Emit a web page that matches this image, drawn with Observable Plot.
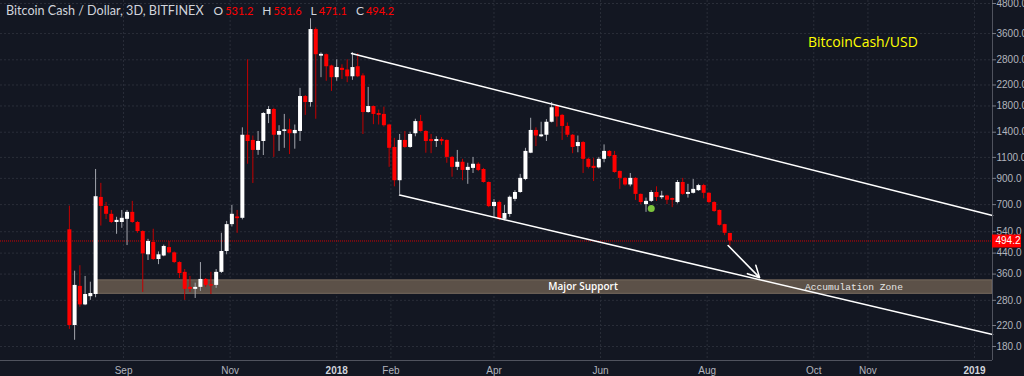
<!DOCTYPE html>
<html><head><meta charset="utf-8">
<script src="https://cdn.jsdelivr.net/npm/d3@7"></script>
<script src="https://cdn.jsdelivr.net/npm/@observablehq/plot@0.6"></script>
<style>
html,body{margin:0;padding:0;background:#131722;overflow:hidden}
#wrap{position:relative;width:1024px;height:376px}
#title{position:absolute;left:6px;top:3px;font:12.6px Lato,"Open Sans",sans-serif;color:#d1d4dc;white-space:nowrap}
#title .k{margin-left:9px;color:#d1d4dc;font-size:12px}
#title .k.first{margin-left:10px}
#title .v{color:#ff0000;margin-left:2px;font-size:11px}
#pair{position:absolute;left:808px;top:32px;font:14px "Open Sans",sans-serif;color:#ffff00}
svg{position:absolute;left:0;top:0}
</style></head><body>
<div id="wrap"></div>
<script>
// ---- data ----
const seriesName = "Bitcoin Cash / Dollar, 3D, BITFINEX";
const pairName = "BitcoinCash/USD";
const ohlcKeys = ["O", "H", "L", "C"];
const opens  = [550,220,320,268,290,296,750,688,638,590,590,608,650,590,541,433,487,414,428,464,441,402,366,317,311,317,342,325,323,366,447,578,622,614,1360,1294,1176,1281,1660,1740,1360,1410,1432,1380,1410,1970,1860,3740,2900,2940,2640,2360,2580,2540,2380,2620,2400,1690,1790,1675,1660,1500,1210,880,1294,1210,1380,1550,1410,1305,1281,1305,1294,1100,1000,1050,971,990,1030,980,865,687,715,608,637,736,786,890,1145,1424,1340,1360,1540,1790,1645,1480,1360,1220,1268,1080,1010,995,1080,1165,1120,962,900,845,900,772,700,722,786,748,760,742,714,865,772,780,800,840,780,714,662,578,531.2];
const highs  = [690,370,390,352,333,980,858,715,662,620,662,662,722,595,545,502,553,445,475,492,445,405,376,352,330,402,345,366,376,532,596,695,662,1460,2800,1350,1410,1690,1790,1760,1490,1660,1585,1500,2130,1990,4150,3800,2990,2960,2660,2800,2670,2800,3000,2970,2450,2150,1800,1730,1780,1510,1320,1370,1410,1400,1585,1645,1420,1370,1340,1330,1300,1110,1176,1080,1040,1100,1045,990,870,735,725,695,760,800,935,1200,1600,1460,1540,1580,1860,1800,1660,1530,1370,1350,1280,1090,1090,1100,1240,1175,1165,965,905,943,905,775,745,800,830,795,765,745,882,900,850,890,850,850,785,720,665,580,531.6];
const lows   = [212,191,262,266,280,287,570,607,584,527,558,473,585,532,302,410,410,394,425,438,398,345,280,302,285,305,317,296,314,362,433,565,532,605,1030,857,1122,1120,1520,1100,1165,1200,1130,1190,1281,1645,1780,1585,2360,2280,2070,2280,2320,2250,2300,2360,1370,1680,1505,1500,1470,1000,830,772,1200,1200,1340,1400,1145,1140,1210,1235,1040,910,970,880,850,943,960,860,680,620,600,600,620,720,780,880,1140,1220,1330,1281,1530,1470,1294,1330,1140,1150,943,985,873,985,1045,1100,945,810,835,830,729,700,650,715,722,736,700,680,705,765,745,775,795,740,705,650,570,520,471.1];
const closes = [220,323,268,296,299,755,688,638,590,602,614,650,590,541,437,492,414,433,469,441,402,362,311,311,317,342,323,321,366,447,578,638,612,1360,1281,1176,1281,1675,1740,1360,1410,1432,1380,1424,1970,1860,3740,2940,2950,2620,2360,2600,2530,2380,2600,2380,1690,1790,1660,1645,1490,1200,880,1294,1210,1370,1550,1410,1281,1280,1305,1280,1100,1000,1050,971,1000,1030,971,865,687,715,608,643,751,786,900,1165,1424,1350,1365,1540,1770,1620,1480,1360,1210,1268,1080,1000,990,1080,1165,1110,952,900,845,900,772,714,722,786,750,760,730,730,865,772,786,810,840,780,714,655,574,532,494.2];
const firstBar = "2017-08-01";
const barDays = 3;

const yTicks = [180,220,280,360,440,540,700,900,1100,1400,1800,2200,2800,3600,4800];
const monthTicks = ["2017-09-01","2017-11-01","2018-02-01","2018-04-01","2018-06-01","2018-08-01","2018-10-01","2018-11-01"];
const monthLabels = ["Sep","Nov","Feb","Apr","Jun","Aug","Oct","Nov"];
const yearTicks = ["2018-01-01","2019-01-01"];
const yearLabels = ["2018","2019"];

const xDomain = ["2017-06-22T14:00Z","2019-01-11T07:00Z"];
const yDomain = [157.4, 4940];

const upperTrend = [{date:"2018-01-09T12:00Z", price:2975},{date:"2019-01-11T07:00Z", price:631}];
const lowerTrend = [{date:"2018-02-06T00:00Z", price:767},{date:"2019-01-11T07:00Z", price:202}];
const arrowPath = {d1:"2018-08-13", p1:473, d2:"2018-08-31", p2:348};
const supportZone = {d1:"2017-08-17", d2:"2019-01-11T07:00Z", low:298, high:339};
const supportLabels = [{date:"2018-05-22", text:"Major Support"},{date:"2018-10-24", text:"Accumulation Zone"}];
const marker = {date:"2018-06-30", price:674};
const priceTag = {d1:"2019-01-11T07:00Z", d2:"2019-01-27T22:00Z"};
const tickEnd = "2019-01-13T14:00Z";

// ---- build ----
const P = s => new Date(s);
const start = P(firstBar + "T00:00Z");
const candles = opens.map((o, i) => ({
  date: d3.utcDay.offset(start, barDays * i),
  open: o, high: highs[i], low: lows[i], close: closes[i],
  up: closes[i] >= o
}));
const last = candles[candles.length - 1];
const lastVals = [last.open, last.high, last.low, last.close];
const yTickLabels = yTicks.map(t => t.toFixed(1));
const monthDates = monthTicks.map(P);
const yearDates = yearTicks.map(P);
const xEnd = P(xDomain[1]);

const wrap = document.getElementById("wrap");

const gridStyle = {stroke:"#2a2e39", strokeOpacity:1, strokeDasharray:"2,2"};
const axisFont = '"Liberation Sans",Arial,sans-serif';

const chart = Plot.plot({
  width: 1024, height: 376,
  marginLeft: 0, marginRight: 32, marginTop: 0, marginBottom: 16,
  style: {background:"#131722", color:"#b2b5be", fontFamily: axisFont, fontSize:"10px", overflow:"visible"},
  x: {type:"utc", domain: xDomain.map(P), axis: null},
  y: {type:"log", domain: yDomain, axis: null},
  color: {type:"identity"},
  marks: [
    Plot.gridY(yTicks, gridStyle),
    Plot.gridX([...monthDates, ...yearDates], gridStyle),
    Plot.rect([supportZone], {x1: d => P(d.d1), x2: d => P(d.d2), y1:"low", y2:"high", fill:"#5c5148", stroke:"#776a5e", strokeWidth:1}),
    Plot.ruleY([last.close], {stroke:"#d40000", strokeWidth:1, strokeDasharray:"1,1"}),
    Plot.ruleX(candles, {x:"date", y1:"low", y2:"high", stroke: d => d.up ? "#a3a6ae" : "#c40000", strokeWidth:1}),
    Plot.ruleX(candles, {x:"date", y1:"open", y2:"close", stroke: d => d.up ? "#ffffff" : "#ff0000", strokeWidth:4}),
    Plot.line(upperTrend, {x: d => P(d.date), y:"price", stroke:"#ffffff", strokeWidth:1.6}),
    Plot.line(lowerTrend, {x: d => P(d.date), y:"price", stroke:"#ffffff", strokeWidth:1.6}),
    Plot.arrow([arrowPath], {x1: d => P(d.d1), y1:"p1", x2: d => P(d.d2), y2:"p2", stroke:"#ffffff", strokeWidth:1.6, headLength:12, headAngle:55}),
    Plot.dot([marker], {x: d => P(d.date), y:"price", r:3.5, fill:"#7cc43c"}),
    Plot.text([supportLabels[0]], {x: d => P(d.date), y: () => Math.sqrt(supportZone.low*supportZone.high), text:"text", fill:"#ffffff", fontSize:10, fontWeight:600, fontFamily:'"Open Sans",sans-serif'}),
    Plot.text([supportLabels[1]], {x: d => P(d.date), y: () => Math.sqrt(supportZone.low*supportZone.high), text:"text", fill:"#e6e6e6", fontSize:9.6, fontFamily:'"Liberation Mono","DejaVu Sans Mono",monospace'}),
    Plot.ruleX([xEnd], {x: d => d, stroke:"#50535e"}),
    Plot.ruleY([yDomain[0]], {y: d => d, stroke:"#50535e"}),
    Plot.ruleY(yTicks, {y: d => d, x1: () => xEnd, x2: () => P(tickEnd), stroke:"#787b86"}),
    Plot.text(yTicks, {y: d => d, x: () => xEnd, text: (d, i) => yTickLabels[i], textAnchor:"start", dx:4, fill:"#b2b5be", fontSize:10, ariaLabel:"ylabels"}),
    Plot.text(monthDates, {x: d => d, y: () => yDomain[0], text: (d, i) => monthLabels[i], dy:10, fill:"#b2b5be", fontSize:10, ariaLabel:"xlabels"}),
    Plot.text(yearDates, {x: d => d, y: () => yDomain[0], text: (d, i) => yearLabels[i], dy:10, fill:"#d1d4dc", fontWeight:"bold", fontSize:10, ariaLabel:"xlabels"}),
    Plot.ruleY([last.close], {y: d => d, x1: () => xEnd, x2: () => P(priceTag.d2), stroke:"#ff0000", strokeWidth:13}),
    Plot.text([last.close], {x: () => xEnd, y: d => d, text: d => d.toFixed(1), textAnchor:"start", dx:3, fill:"#ffffff", fontSize:10, ariaLabel:"pricetag"})
  ]
});
wrap.appendChild(chart);

// condense axis label glyphs to match the narrow axis font of the reference
d3.select(chart).selectAll('g[aria-label="ylabels"] text, g[aria-label="xlabels"] text, g[aria-label="pricetag"] text').each(function() {
  const w = this.getComputedTextLength();
  if (w > 0) { this.setAttribute("textLength", (w * 0.78).toFixed(1)); this.setAttribute("lengthAdjust", "spacingAndGlyphs"); }
});

const title = document.createElement("div");
title.id = "title";
let html = `<span>${seriesName}</span>`;
ohlcKeys.forEach((k, i) => { html += `<span class="k${i === 0 ? " first" : ""}">${k}</span><span class="v">${lastVals[i].toFixed(1)}</span>`; });
title.innerHTML = html;
wrap.appendChild(title);

const pair = document.createElement("div");
pair.id = "pair";
pair.textContent = pairName;
wrap.appendChild(pair);
</script>
</body></html>
